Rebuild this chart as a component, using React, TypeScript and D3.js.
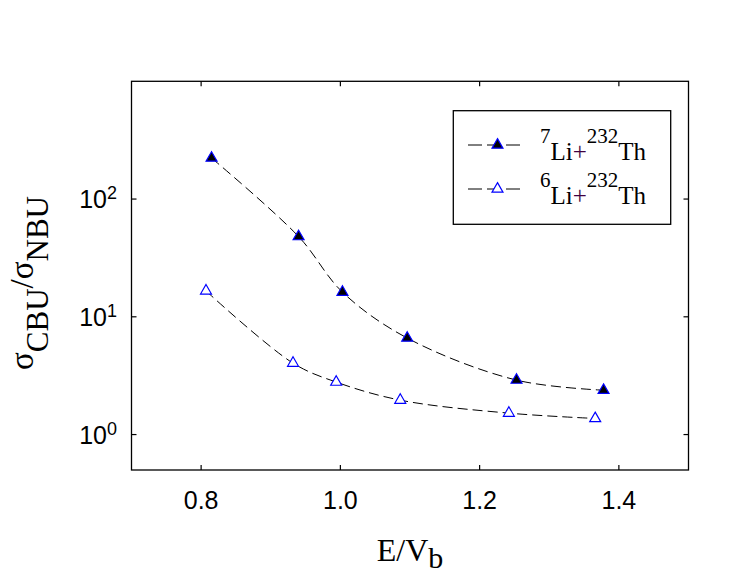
import * as d3 from "d3";

const energy7 = [0.815, 0.94, 1.003, 1.096, 1.253, 1.378];
const ratio7 = [223, 48, 16.2, 6.6, 2.9, 2.38];
const energy6 = [0.807, 0.932, 0.994, 1.086, 1.242, 1.366];
const ratio6 = [16.6, 4.04, 2.79, 1.96, 1.52, 1.37];
const xTicks = [0.8, 1.0, 1.2, 1.4];
const yTickExponents = [0, 1, 2];
const seriesNames = [
  { mass: "7", target: "232", filled: true },
  { mass: "6", target: "232", filled: false },
];

const W = 730;
const H = 582;
const left = 131.5, right = 688.5, top = 81.3, bottom = 470;

const serif = "'Liberation Serif', 'Times New Roman', serif";
const sans = "'Liberation Sans', Arial, sans-serif";

export default function App() {
  const x = d3.scaleLinear().domain([0.7, 1.5]).range([left, right]);
  const y = d3.scaleLog().domain([0.5, 1000]).range([bottom, top]);

  const line = d3
    .line<[number, number]>()
    .x(d => x(d[0]))
    .y(d => y(d[1]))
    .curve(d3.curveCatmullRom.alpha(0.5));

  const tri = d3.symbol().type(d3.symbolTriangle).size(52)() as string;

  const pts7 = energy7.map((e, i) => [e, ratio7[i]] as [number, number]);
  const pts6 = energy6.map((e, i) => [e, ratio6[i]] as [number, number]);

  const marker = (px: number, py: number, filled: boolean, key: string) => (
    <path
      key={key}
      d={tri}
      transform={`translate(${px},${py})`}
      fill={filled ? "#000" : "#fff"}
      stroke="#0000ff"
      strokeWidth={1.2}
    />
  );

  const tickLen = 5;

  return (
    <svg
      width={W}
      height={H}
      style={{ position: "absolute", left: 0, top: 0, background: "#fff" }}
    >
      <rect x={0} y={0} width={W} height={H} fill="#fff" />

      {/* curves */}
      <path d={line(pts7) ?? ""} fill="none" stroke="#000" strokeWidth={1} strokeDasharray="10,5" />
      <path d={line(pts6) ?? ""} fill="none" stroke="#000" strokeWidth={1} strokeDasharray="10,5" />
      {pts7.map((p, i) => marker(x(p[0]), y(p[1]), true, "f" + i))}
      {pts6.map((p, i) => marker(x(p[0]), y(p[1]), false, "o" + i))}

      {/* frame */}
      <rect x={left} y={top} width={right - left} height={bottom - top} fill="none" stroke="#000" strokeWidth={1.3} />

      {/* x ticks */}
      {xTicks.map(t => (
        <g key={"x" + t}>
          <line x1={x(t)} x2={x(t)} y1={bottom} y2={bottom - tickLen} stroke="#000" strokeWidth={1.2} />
          <line x1={x(t)} x2={x(t)} y1={top} y2={top + tickLen} stroke="#000" strokeWidth={1.2} />
          <text x={x(t)} y={509} textAnchor="middle" fontFamily={sans} fontSize={25} fill="#000">
            {d3.format(".1f")(t)}
          </text>
        </g>
      ))}

      {/* y ticks */}
      {yTickExponents.map(e => {
        const py = y(Math.pow(10, e));
        return (
          <g key={"y" + e}>
            <line x1={left} x2={left + tickLen} y1={py} y2={py} stroke="#000" strokeWidth={1.2} />
            <line x1={right} x2={right - tickLen} y1={py} y2={py} stroke="#000" strokeWidth={1.2} />
            <text x={117} y={py + 9} textAnchor="end" fontFamily={sans} fontSize={25} fill="#000">
              <tspan>10</tspan>
              <tspan dy={-9} fontSize={18}>{e}</tspan>
            </text>
          </g>
        );
      })}

      {/* axis titles */}
      <text x={410} y={561} textAnchor="middle" fontFamily={serif} fontSize={32} fill="#000">
        <tspan>E/V</tspan>
        <tspan dy={7} fontSize={30}>b</tspan>
      </text>
      <text transform="translate(33,283) rotate(-90)" textAnchor="middle" fontFamily={serif} fontSize={33} fill="#000">
        <tspan>σ</tspan>
        <tspan dy={15} fontSize={31}>CBU</tspan>
        <tspan dy={-15}>/σ</tspan>
        <tspan dy={15} fontSize={31}>NBU</tspan>
      </text>

      {/* legend */}
      <rect x={453.3} y={110.7} width={217.4} height={113.6} fill="#fff" stroke="#000" strokeWidth={1.3} />
      {seriesNames.map((s, i) => {
        const ry = 145 + i * 44;
        return (
          <g key={"leg" + i}>
            <line x1={468} x2={520} y1={ry} y2={ry} stroke="#000" strokeWidth={1} strokeDasharray="14,5" />
            {marker(497.5, ry, s.filled, "lm" + i)}
            <text x={540} y={ry + 15} fontFamily={serif} fontSize={25} fill="#000">
              <tspan dy={-17} fontSize={21}>{s.mass}</tspan>
              <tspan dy={17}>Li</tspan>
              <tspan fill="#400040">+</tspan>
              <tspan dy={-17} fontSize={21}>{s.target}</tspan>
              <tspan dy={17}>Th</tspan>
            </text>
          </g>
        );
      })}
    </svg>
  );
}
